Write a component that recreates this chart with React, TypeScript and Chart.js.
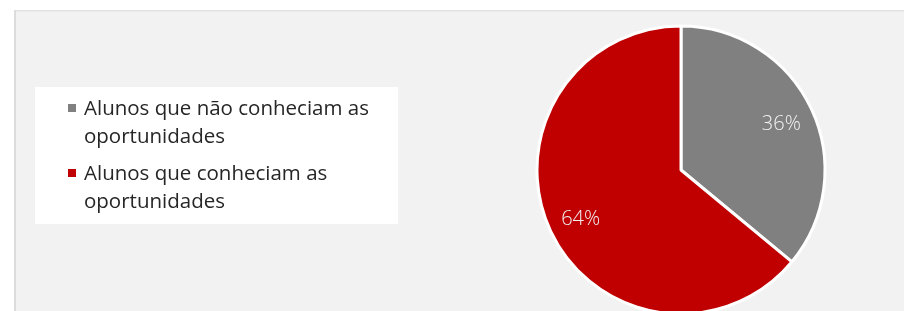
import React, { useEffect, useRef } from "react";
import { Chart, registerables } from "chart.js";

Chart.register(...registerables);

const categories = ["Alunos que não conheciam as oportunidades", "Alunos que conheciam as oportunidades"];
const legendLines = [["Alunos que não conheciam as", "oportunidades"], ["Alunos que conheciam as", "oportunidades"]];
const values = [36, 64];
const valueLabels = ["36%", "64%"];
const colors = ["#808080", "#C00000"];

const W = 904;
const H = 311;

const backgroundPlugin = {
  id: "panelBg",
  beforeDraw(chart: any) {
    const ctx = chart.ctx;
    ctx.save();
    ctx.fillStyle = "#ffffff";
    ctx.fillRect(0, 0, W, H);
    ctx.fillStyle = "#f2f2f2";
    ctx.fillRect(14, 10, W - 14, H - 10);
    ctx.fillStyle = "#e2e2e2";
    ctx.fillRect(14, 10, W - 14, 1);
    ctx.fillStyle = "#eaeaea";
    ctx.fillRect(14, 11, W - 14, 1);
    ctx.fillStyle = "#dcdcdc";
    ctx.fillRect(14, 10, 2, H - 10);
    ctx.restore();
  },
};

const legendPlugin = {
  id: "boxLegend",
  afterDraw(chart: any) {
    const ctx = chart.ctx;
    ctx.save();
    ctx.fillStyle = "#ffffff";
    ctx.fillRect(35, 87, 363, 137);
    ctx.font = "20.5px 'Open Sans'";
    ctx.textBaseline = "alphabetic";
    ctx.textAlign = "left";
    const bases = [115, 180];
    const bg = chart.data.datasets[0].backgroundColor;
    legendLines.forEach((lines, i) => {
      ctx.fillStyle = bg[i];
      ctx.fillRect(68, bases[i] - 11, 8, 8);
      ctx.fillStyle = "#262626";
      lines.forEach((t, j) => {
        ctx.fillText(t, 84, bases[i] + j * 28);
      });
    });
    ctx.restore();
  },
};

const valueLabelPlugin = {
  id: "valueLabels",
  afterDatasetsDraw(chart: any) {
    const ctx = chart.ctx;
    const meta = chart.getDatasetMeta(0);
    ctx.save();
    ctx.font = "300 20px 'Open Sans'";
    ctx.fillStyle = "#f2f2f2";
    ctx.textAlign = "center";
    ctx.textBaseline = "middle";
    meta.data.forEach((arc: any, i: number) => {
      const { x, y, startAngle, endAngle, outerRadius } = arc.getProps(["x", "y", "startAngle", "endAngle", "outerRadius"]);
      const mid = (startAngle + endAngle) / 2;
      const r = outerRadius * 0.77;
      ctx.fillText(valueLabels[i], x + Math.cos(mid) * r, y + 2 + Math.sin(mid) * r);
    });
    ctx.restore();
  },
};

export default function App() {
  const ref = useRef<HTMLCanvasElement>(null);
  useEffect(() => {
    if (!ref.current) return;
    const chart = new Chart(ref.current, {
      type: "pie",
      data: {
        labels: categories,
        datasets: [
          {
            data: values,
            backgroundColor: colors,
            borderColor: "#ffffff",
            borderWidth: 3,
            radius: 144,
          } as any,
        ],
      },
      options: {
        responsive: false,
        animation: false,
        devicePixelRatio: 1,
        layout: { padding: { left: 540, right: 82, top: 29, bottom: 0 } },
        plugins: {
          legend: { display: false },
          tooltip: { enabled: false },
          title: { display: false },
        },
      } as any,
      plugins: [backgroundPlugin, legendPlugin, valueLabelPlugin],
    });
    return () => chart.destroy();
  }, []);
  return (
    <div style={{ position: "absolute", left: 0, top: 0, width: W, height: H, overflow: "hidden" }}>
      <canvas ref={ref} width={W} height={H} style={{ display: "block", width: W, height: H }} />
    </div>
  );
}
